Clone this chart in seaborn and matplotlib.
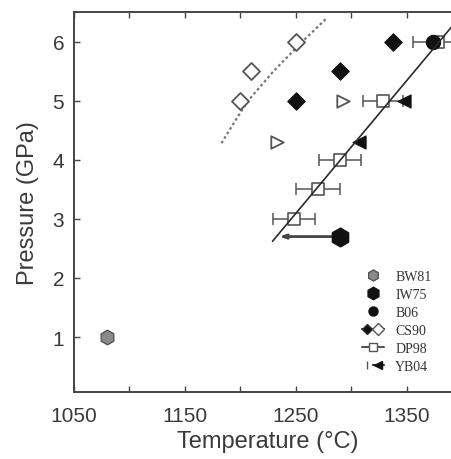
import numpy as np
import pandas as pd
import matplotlib
matplotlib.use("Agg")
import matplotlib.pyplot as plt
import seaborn as sns
from matplotlib.lines import Line2D
from matplotlib.legend_handler import HandlerTuple

# ---- data ----
bw81_T = [1080]
bw81_P = [1.0]
iw75_T = [1290]
iw75_P = [2.7]
iw75_arrow_T = [1235]
b06_T = [1374]
b06_P = [6.0]
cs90_solid_T = [1250, 1290, 1338]
cs90_solid_P = [5.0, 5.5, 6.0]
cs90_open_T = [1200, 1210, 1250]
cs90_open_P = [5.0, 5.5, 6.0]
cs90_curve_T = [1183, 1195, 1207, 1230, 1256, 1277]
cs90_curve_P = [4.28, 4.65, 5.0, 5.5, 6.0, 6.38]
dp98_T = [1248, 1270, 1290, 1329, 1378]
dp98_P = [3.0, 3.5, 4.0, 5.0, 6.0]
dp98_err = [19, 20, 19, 18, 22]
dp98_fit_T = [1229, 1395]
dp98_fit_P = [2.62, 6.35]
yb04_open_T = [1233, 1293]
yb04_open_P = [4.3, 5.0]
yb04_solid_T = [1307, 1348]
yb04_solid_P = [4.3, 5.0]
legend_labels = ["BW81", "IW75", "B06", "CS90", "DP98", "YB04"]

sns.set_style("ticks")
plt.rcParams["font.family"] = ["Liberation Sans", "DejaVu Sans"]

fig = plt.figure(figsize=(4.51, 4.60), dpi=100)
ax = fig.add_axes([74/451, 1-393/460, (1400-1050)*1.109/451, (393-13)/460])

dark = "#2a2a2a"
edge_gray = "#555555"

# lines
sns.lineplot(x=cs90_curve_T, y=cs90_curve_P, ax=ax, color="#777777",
             linestyle=(0, (1.2, 1.2)), linewidth=1.6, sort=False, zorder=2)
sns.lineplot(x=dp98_fit_T, y=dp98_fit_P, ax=ax, color=dark, linewidth=1.2,
             sort=False, zorder=6)

# DP98 error bars + squares
ax.errorbar(dp98_T, dp98_P, xerr=dp98_err, fmt="none", ecolor=edge_gray,
            elinewidth=1.1, capsize=4, capthick=1.1, zorder=3)
sns.scatterplot(x=dp98_T, y=dp98_P, ax=ax, marker="s", s=80,
                facecolor="white", edgecolor=edge_gray, linewidth=1.2, zorder=4)

# IW75 arrow
ax.annotate("", xy=(iw75_arrow_T[0], iw75_P[0]), xytext=(iw75_T[0], iw75_P[0]),
            arrowprops=dict(arrowstyle="-|>,head_length=0.35,head_width=0.12",
                            color="#444444", lw=2.0, shrinkA=0, shrinkB=0), zorder=3)

sns.scatterplot(x=bw81_T, y=bw81_P, ax=ax, marker="h", s=110,
                color="#8a8a8a", edgecolor="#555555", linewidth=1.0, zorder=5)
sns.scatterplot(x=iw75_T, y=iw75_P, ax=ax, marker="h", s=180,
                color="#111111", edgecolor="#111111", zorder=5)
sns.scatterplot(x=b06_T, y=b06_P, ax=ax, marker="o", s=105,
                color="#111111", edgecolor="#111111", zorder=5)
sns.scatterplot(x=cs90_solid_T, y=cs90_solid_P, ax=ax, marker="D", s=80,
                color="#111111", edgecolor="#111111", zorder=5)
sns.scatterplot(x=cs90_open_T, y=cs90_open_P, ax=ax, marker="D", s=75,
                facecolor="white", edgecolor=edge_gray, linewidth=1.3, zorder=5)
sns.scatterplot(x=yb04_open_T, y=yb04_open_P, ax=ax, marker=">", s=80,
                facecolor="white", edgecolor=edge_gray, linewidth=1.3, zorder=5)
sns.scatterplot(x=yb04_solid_T, y=yb04_solid_P, ax=ax, marker="<", s=90,
                color="#111111", edgecolor="#111111", zorder=5)

# axes
ax.set_xlim(1050, 1400)
ax.set_ylim(0.07, 6.5)
ax.set_xticks([1050, 1150, 1250, 1350])
ax.set_xticks([1100, 1200, 1300], minor=True)
ax.set_yticks([1, 2, 3, 4, 5, 6])
ax.tick_params(axis="both", which="both", direction="in", length=4,
               width=1.0, color="#444444", labelsize=15, labelcolor="#3a3a3a",
               top=True, right=False)
ax.tick_params(axis="x", pad=10)
ax.tick_params(axis="y", pad=7)
for s in ax.spines.values():
    s.set_color("#444444")
    s.set_linewidth(1.4)
ax.spines["right"].set_visible(False)
ax.set_xlabel("Temperature (°C)", fontsize=17, color="#3a3a3a", labelpad=4)
ax.set_ylabel("Pressure (GPa)", fontsize=17, color="#3a3a3a", labelpad=10)

# legend
h_bw = Line2D([], [], marker="h", ls="none", ms=8, mfc="#8a8a8a", mec="#555555")
h_iw = Line2D([], [], marker="h", ls="none", ms=9, mfc="#111111", mec="#111111")
h_b06 = Line2D([], [], marker="o", ls="none", ms=6.5, mfc="#111111", mec="#111111")
h_cs_a = Line2D([], [], marker="D", ls="-", color=dark, ms=5, mfc="#111111")
h_cs_b = Line2D([], [], marker="D", ls="-", color=dark, ms=6, mfc="white", mec=edge_gray)
h_dp = Line2D([], [], marker="s", ls="-", color=edge_gray, ms=6, mfc="white", mec=edge_gray)
h_yb_a = Line2D([], [], marker="|", ls="none", ms=6, color=edge_gray)
h_yb_b = Line2D([], [], marker="<", ls="-", color=dark, ms=6, mfc="#111111", mec="#111111")
handles = [h_bw, h_iw, h_b06, (h_cs_a, h_cs_b), h_dp, (h_yb_a, h_yb_b)]
leg = ax.legend(handles, legend_labels, loc="upper left",
                bbox_to_anchor=(0.727, 0.335), frameon=False,
                handler_map={tuple: HandlerTuple(ndivide=None, pad=0)},
                prop={"family": ["Liberation Serif", "DejaVu Serif"], "size": 10},
                handlelength=1.6, handletextpad=0.8, labelspacing=0.36,
                borderaxespad=0)
for t in leg.get_texts():
    t.set_color("#333333")

fig.savefig("out.png", dpi=100)
